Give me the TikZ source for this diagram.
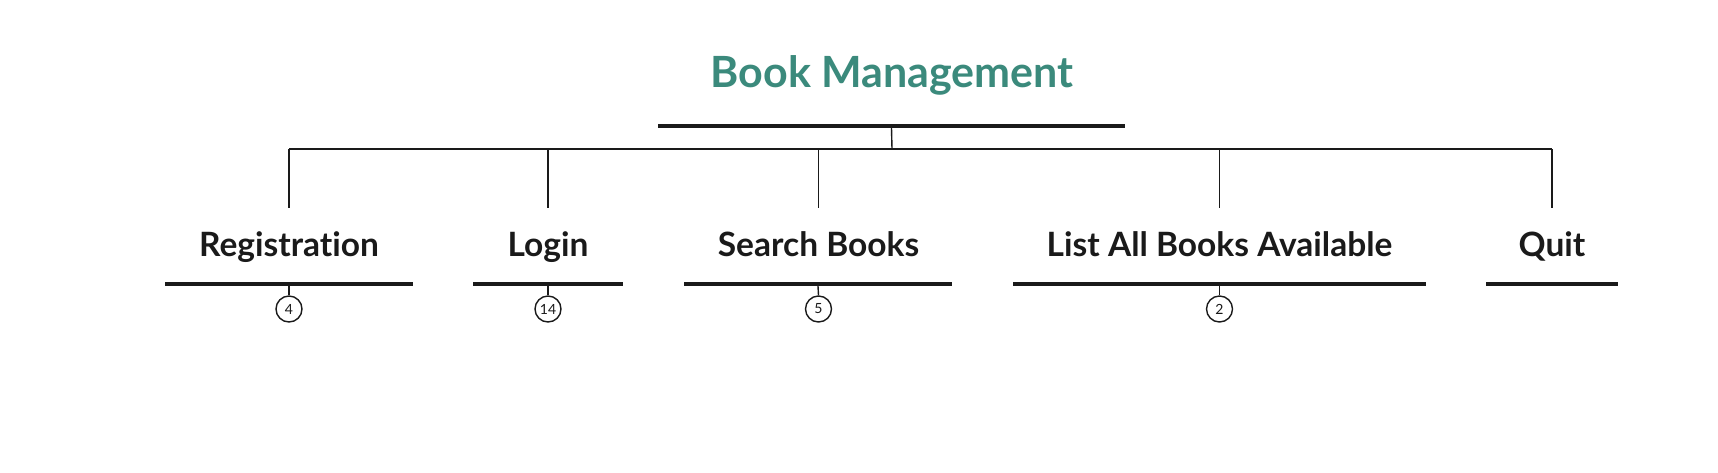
\documentclass[tikz,border=0pt]{standalone}
\usepackage{fontspec}
\setmainfont{Lato}[Ligatures=NoCommon]
\definecolor{teal1}{RGB}{59,138,124}
\definecolor{ink}{RGB}{26,26,26}
\begin{document}
\begin{tikzpicture}[x=1pt,y=-1pt,
  titletext/.style={anchor=base,inner sep=0pt,font=\fontsize{43}{43}\selectfont\bfseries,text=teal1},
  childtext/.style={anchor=base,inner sep=0pt,font=\fontsize{33.5}{33.5}\selectfont\bfseries,text=ink},
  bar/.style={rectangle,fill=ink,inner sep=0pt,minimum height=4pt},
  thin/.style={draw=ink,line width=1.4pt},
  badge/.style={circle,draw=ink,line width=1.4pt,minimum size=26pt,inner sep=0pt,font=\fontsize{14}{14}\selectfont,text=ink}]
\useasboundingbox[fill=white] (0,0) rectangle (1718,472);
% root
\node[titletext] (title) at (892,87) {Book Management};
\node[bar,minimum width=467pt] (tbar) at (891.5,126) {};
\coordinate (hub) at (892,149);
\draw[thin] (tbar.south) -- (hub);
\coordinate (hl) at (289,149);
\coordinate (hr) at (1552,149);
\draw[thin] (hl) -- (hr);
% children
\foreach \nm/\x/\bl/\br/\txt in {reg/289/165/413/Registration, log/548/473/623/Login, sea/818.5/684/952/Search Books, lst/1219.5/1013/1426/List All Books Available, qut/1552/1486/1618/Quit}{
  \coordinate (\nm top) at (\x,149);
  \coordinate (\nm bot) at (\x,208);
  \draw[thin] (\nm top) -- (\nm bot);
  \node[childtext] (\nm) at (\x,256) {\txt};
  \pgfmathsetmacro{\w}{\br-\bl}
  \pgfmathsetmacro{\c}{(\br+\bl)/2}
  \node[bar,minimum width=\w pt] (\nm bar) at (\c,284) {};
}
\foreach \nm/\x/\n in {reg/289/4, log/548/14, sea/818.5/5, lst/1219.5/2}{
  \node[badge] (\nm badge) at (\x,309) {\n};
  \draw[thin] (\nm bar.south) -- (\nm badge.north);
}
\end{tikzpicture}
\end{document}
